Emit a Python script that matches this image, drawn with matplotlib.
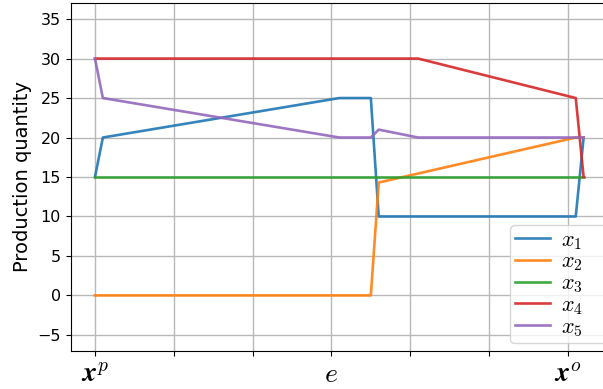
import matplotlib
matplotlib.use("Agg")
import matplotlib.pyplot as plt

plt.rcParams['mathtext.fontset'] = 'cm'

# step index along the path x^p -> e -> x^o
t_x1 = [0, 1, 31, 35, 36, 61, 62]
v_x1 = [15, 20, 25, 25, 10, 10, 20]
t_x2 = [0, 35, 36, 61, 62]
v_x2 = [0, 0, 14.3, 20, 20]
t_x3 = [0, 62]
v_x3 = [15, 15]
t_x4 = [0, 41, 61, 62]
v_x4 = [30, 30, 25, 15]
t_x5 = [0, 1, 31, 35, 36, 41, 62]
v_x5 = [30, 25, 20, 20, 21, 20, 20]

tick_pos = [0, 10, 20, 30, 40, 50, 60]
tick_labels = [r'$\boldsymbol{x}^p$', '', '', r'$e$', '', '', r'$\boldsymbol{x}^o$']

series = [
    (t_x1, v_x1, r'$x_1$'),
    (t_x2, v_x2, r'$x_2$'),
    (t_x3, v_x3, r'$x_3$'),
    (t_x4, v_x4, r'$x_4$'),
    (t_x5, v_x5, r'$x_5$'),
]

fig = plt.figure(figsize=(6.03, 3.89), dpi=100)
# axes run past the right edge (the original image is cropped there)
ax = fig.add_axes([0.117, 0.0985, 0.911, 0.893])

for t, v, label in series:
    ax.plot(t, v, label=label, linewidth=1.9, alpha=0.9)

ax.set_xlim(-3.1, 66.6)
ax.set_ylim(-7, 37)
ax.set_xticks(tick_pos)
ax.set_xticklabels(tick_labels, fontsize=20)
ax.tick_params(axis='y', labelsize=11.5)
ax.set_ylabel('Production quantity', fontsize=14)
ax.grid(True, color='#b8b8b8', linewidth=1.0)

# legend box starts near x=510px and runs off the cropped right edge
ax.legend(loc='lower left', bbox_to_anchor=(0.846, 0.118, 0.2, 0.3),
          bbox_transform=fig.transFigure, mode='expand', borderaxespad=0,
          fontsize=16, labelspacing=0.0, borderpad=0.2,
          handlelength=1.6, handletextpad=0.5)

fig.savefig('out.png', dpi=100)
